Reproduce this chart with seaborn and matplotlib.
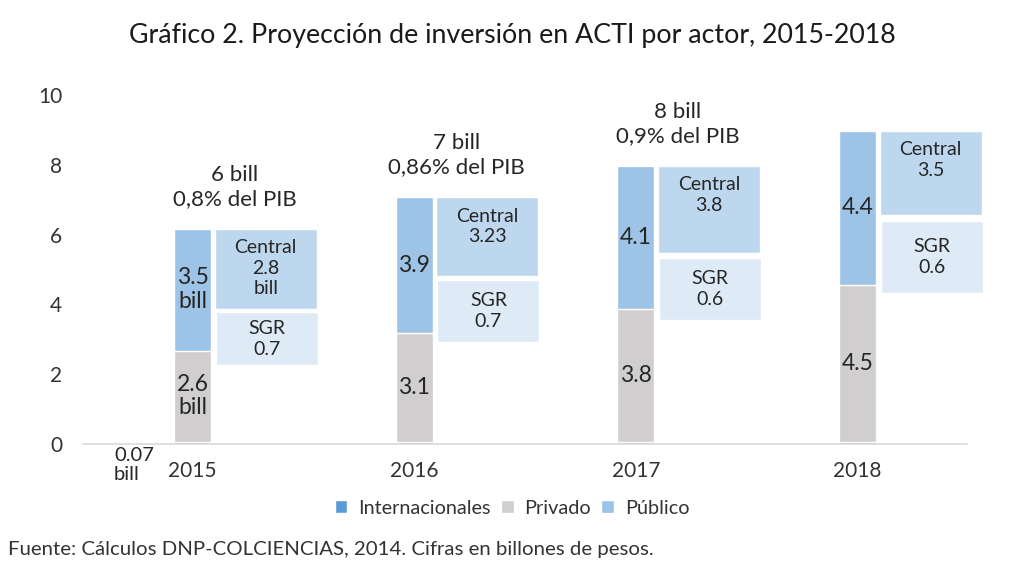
import matplotlib
matplotlib.use("Agg")
import matplotlib.pyplot as plt
import seaborn as sns
import pandas as pd
import numpy as np

# ---- data ----
years = ["2015", "2016", "2017", "2018"]
internacionales = [0.07, 0.07, 0.07, 0.07]
privado = [2.6, 3.1, 3.8, 4.5]
publico = [3.5, 3.9, 4.1, 4.4]
central = ["2.8\nbill", "3.23", "3.8", "3.5"]
sgr = ["0.7", "0.7", "0.6", "0.6"]
privado_labels = ["2.6\nbill", "3.1", "3.8", "4.5"]
publico_labels = ["3.5\nbill", "3.9", "4.1", "4.4"]
totales = ["6 bill\n0,8% del PIB", "7 bill\n0,86% del PIB", "8 bill\n0,9% del PIB", ""]

# ---- layout (box sizes in axis units, not data) ----
central_box_h = [2.30, 2.25, 2.50, 2.40]
box_gap = [0.10, 0.11, 0.14, 0.18]
sgr_box_h = [1.52, 1.78, 1.78, 2.07]

FONT = "Lato"
sns.set_theme(style="white")
plt.rcParams["font.family"] = [FONT, "DejaVu Sans"]
TXT = "#262626"

C_INT = "#5B9BD5"
C_PRIV = "#D0CECE"
C_PUB = "#9DC3E6"
C_CEN = "#BDD7EE"
C_SGR = "#DEEBF7"

df = pd.DataFrame({"year": years, "int": internacionales, "priv": privado, "pub": publico})
df["lvl_priv"] = df["int"] + df["priv"]
df["lvl_pub"] = df["lvl_priv"] + df["pub"]

fig = plt.figure(figsize=(10.24, 5.77), dpi=100)
ax = fig.add_axes([83 / 1024, 1 - 444 / 577, (967 - 83) / 1024, (444 - 95) / 577])

bw = 0.167
sns.barplot(data=df, x="year", y="lvl_pub", color=C_PUB, saturation=1, width=bw, ax=ax, label="Público")
sns.barplot(data=df, x="year", y="lvl_priv", color=C_PRIV, saturation=1, width=bw, ax=ax, label="Privado")
sns.barplot(data=df, x="year", y="int", color=C_INT, saturation=1, width=bw, ax=ax, label="Internacionales")

xs = np.arange(len(years))
box_left = 0.10
box_w = 0.46
for i, x in enumerate(xs):
    top = df["lvl_pub"][i]
    cb = top - central_box_h[i]
    ax.bar(x + box_left, central_box_h[i], bottom=cb, width=box_w, align="edge",
           color=C_CEN, clip_on=False, zorder=2)
    st = cb - box_gap[i]
    sb = st - sgr_box_h[i]
    ax.bar(x + box_left + 0.005, sgr_box_h[i], bottom=sb, width=box_w, align="edge",
           color=C_SGR, clip_on=False, zorder=2)
    bx = x + box_left + box_w / 2
    ax.text(bx, top - 0.30, "Central\n" + central[i], ha="center", va="top", fontsize=14,
            color=TXT, linespacing=1.25, zorder=3)
    ax.text(bx + 0.005, sb + sgr_box_h[i] / 2, "SGR\n" + sgr[i], ha="center", va="center",
            fontsize=14, color=TXT, linespacing=1.3, zorder=3)
    # bar segment labels
    ax.text(x, df["int"][i] + privado[i] / 2, privado_labels[i], ha="center", va="center",
            fontsize=16.5, color=TXT, linespacing=1.15, zorder=3)
    ax.text(x, df["lvl_priv"][i] + publico[i] / 2, publico_labels[i], ha="center", va="center",
            fontsize=16.5, color=TXT, linespacing=1.15, zorder=3)
    if totales[i]:
        ax.text(x + 0.19, top + 1.2, totales[i], ha="center", va="center", fontsize=16,
                color=TXT, linespacing=1.25, clip_on=False)

ax.text(-0.354, -0.08, "0.07\nbill", ha="left", va="top", fontsize=14.5, color=TXT,
        linespacing=1.15, clip_on=False)

ax.set_xlim(-0.494, 3.494)
ax.set_ylim(0, 10)
ax.set_yticks([0, 2, 4, 6, 8, 10])
ax.set_xlabel("")
ax.set_ylabel("")
ax.tick_params(axis="y", length=0, pad=15, labelsize=15, labelcolor="#333333")
ax.tick_params(axis="x", length=0, pad=12, labelsize=15, labelcolor="#333333")
for s in ["left", "top", "right"]:
    ax.spines[s].set_visible(False)
ax.spines["bottom"].set_color("#D9D9D9")
ax.spines["bottom"].set_linewidth(1.2)
ax.grid(False)

handles, labels = ax.get_legend_handles_labels()
hmap = dict(zip(labels, handles))
order = ["Internacionales", "Privado", "Público"]
if ax.get_legend() is not None:
    ax.get_legend().remove()
fig.legend([hmap[o] for o in order], order, loc="center", bbox_to_anchor=(512 / 1024, 1 - 508 / 577),
           ncol=3, frameon=False, fontsize=14.3, handlelength=0.65, handleheight=0.65,
           handletextpad=0.55, columnspacing=0.5, labelcolor="#333333")

fig.text(0.5, 1 - 36 / 577, "Gráfico 2. Proyección de inversión en ACTI por actor, 2015-2018",
         ha="center", va="center", fontsize=19.3, color="#1a1a1a")
fig.text(8 / 1024, 1 - 549 / 577, "Fuente: Cálculos DNP-COLCIENCIAS, 2014. Cifras en billones de pesos.",
         ha="left", va="center", fontsize=14.7, color="#333333")

fig.savefig("out.png", dpi=100)
